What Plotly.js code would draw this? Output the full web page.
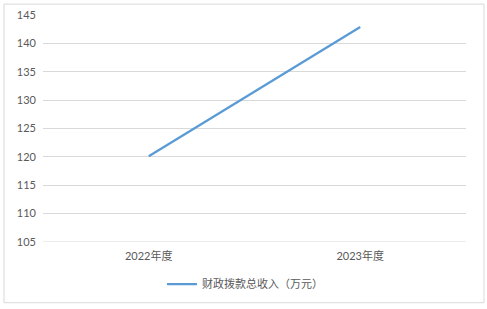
<!DOCTYPE html>
<html><head><meta charset="utf-8">
<script src="https://cdn.plot.ly/plotly-3.0.1.min.js"></script>
<style>html,body{margin:0;padding:0;background:#fff;}#c{width:487px;height:309px;}</style>
</head><body><div id="c"></div>
<script>
const categories = ["2022年度", "2023年度"];
const values = [120.1, 142.9];
const seriesName = "财政拨款总收入（万元）";
const yTicks = [105, 110, 115, 120, 125, 130, 135, 140, 145];

const font = {family: "Lato, 'Noto Sans CJK SC', sans-serif", size: 11, color: "#595959"};
Plotly.newPlot("c", [{
  x: categories, y: values, type: "scatter", mode: "lines", name: seriesName,
  line: {color: "#5B9BD5", width: 2.25}
}], {
  width: 487, height: 309,
  margin: {l: 43, r: 21, t: 15, b: 66},
  paper_bgcolor: "#fff", plot_bgcolor: "#fff",
  font: font,
  showlegend: true,
  legend: {orientation: "h", x: 0.4775, xanchor: "center", y: -0.18, yanchor: "middle", font: font, bgcolor: "rgba(0,0,0,0)"},
  xaxis: {type: "category", range: [-0.5, 1.5], showgrid: false, zeroline: false, showline: false, ticks: "", tickfont: font, ticklabelstandoff: 6},
  yaxis: {range: [105, 145], tickvals: yTicks, showgrid: true, gridcolor: "#d9d9d9", gridwidth: 1, zeroline: false, showline: false, ticks: "", tickfont: font, ticklabelstandoff: 6},
  shapes: [
    {type: "line", xref: "paper", yref: "y", x0: 0, x1: 1, y0: 105, y1: 105, line: {color: "#d9d9d9", width: 1}, layer: "below"},
    {type: "rect", xref: "paper", yref: "paper", x0: -0.0922, x1: 1.0426, y0: -0.2675, y1: 1.048, line: {color: "#d9d9d9", width: 1}}
  ]
}, {displayModeBar: false, staticPlot: true});
</script></body></html>
